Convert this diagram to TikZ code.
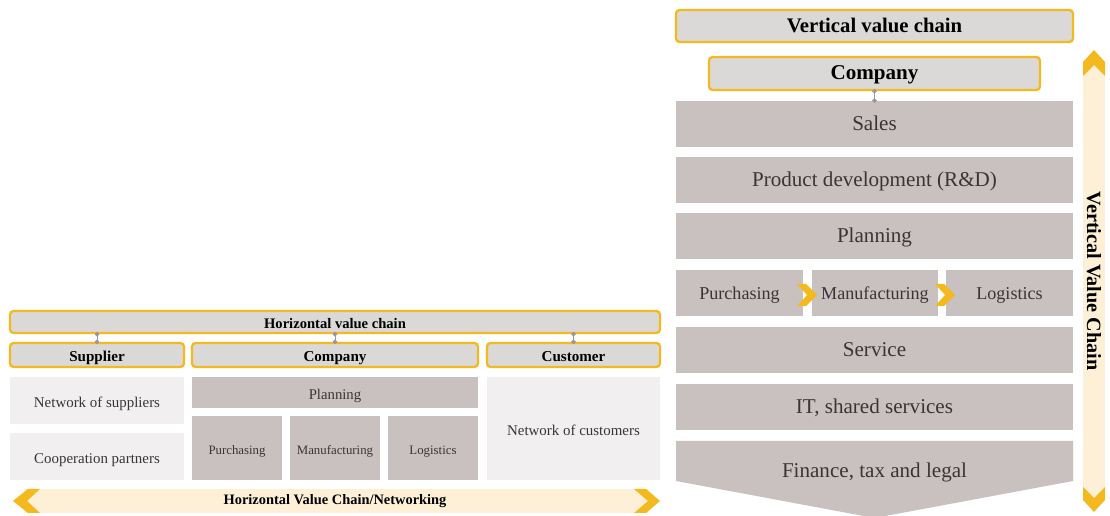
\documentclass[tikz,border=0pt]{standalone}
\usepackage{fontspec}
\setmainfont{Liberation Serif}
\usepackage{tikz}
\usetikzlibrary{arrows.meta}
\definecolor{chainyellow}{HTML}{F4B91E}
\definecolor{headgray}{HTML}{DBD8D8}
\definecolor{darkbox}{HTML}{C9C0C0}
\definecolor{lightbox}{HTML}{F1EFEF}
\definecolor{cream}{HTML}{FDF0D6}
\definecolor{boxtext}{HTML}{3A3535}
\tikzset{
    head/.style={draw=chainyellow, line width=1.3pt, fill=headgray, rounded corners=2pt,
        inner sep=0pt, text height=0.85em, text depth=0.15em, text=black},
    unit/.style={fill=darkbox, inner sep=0pt, text height=0.9em, text depth=0.15em, text=boxtext, align=center},
    net/.style={fill=lightbox, inner sep=0pt, text height=0.9em, text depth=0.15em, text=boxtext, align=center},
    conn/.style={gray!80, line width=0.5pt, {Circle[length=2.6pt]}-{Circle[length=2.6pt]}, shorten <=-1.3pt, shorten >=-1.3pt},
    chevron/.style={fill=chainyellow, draw=none}
}

\begin{document}
\begin{tikzpicture}[x=0.02cm, y=-0.02cm]
    \useasboundingbox (0,0) rectangle (1110,516);

    % horizontal value chain
    \node[head, minimum width=13cm, minimum height=0.44cm, font=\bfseries\fontsize{8.3}{9}\selectfont] (hvc) at (335,322) {Horizontal value chain};
    \node[head, minimum width=3.48cm, minimum height=0.48cm, font=\bfseries\fontsize{8.6}{10}\selectfont] (supplier) at (97,355) {Supplier};
    \node[head, minimum width=5.72cm, minimum height=0.48cm, font=\bfseries\fontsize{8.6}{10}\selectfont] (hcompany) at (335,355) {Company};
    \node[head, minimum width=3.46cm, minimum height=0.48cm, font=\bfseries\fontsize{8.6}{10}\selectfont] (customer) at (573.5,355) {Customer};

    \draw[conn] (hvc.south -| supplier.north) -- (supplier.north);
    \draw[conn] (hvc.south -| hcompany.north) -- (hcompany.north);
    \draw[conn] (hvc.south -| customer.north) -- (customer.north);

    \node[net, minimum width=3.48cm, minimum height=0.94cm, font=\fontsize{8.5}{10}\selectfont] (suppliers) at (97,400.5) {Network of suppliers};
    \node[net, minimum width=3.48cm, minimum height=0.94cm, font=\fontsize{8.5}{10}\selectfont] (partners) at (97,456.5) {Cooperation partners};
    \node[unit, minimum width=5.72cm, minimum height=0.62cm, font=\fontsize{8.4}{10}\selectfont] (hplanning) at (335,392.5) {Planning};
    \node[unit, minimum width=1.8cm, minimum height=1.28cm, font=\fontsize{7.3}{8}\selectfont] (hpurchasing) at (237,448) {Purchasing};
    \node[unit, minimum width=1.8cm, minimum height=1.28cm, font=\fontsize{7.3}{8}\selectfont] (hmanufacturing) at (335,448) {Manufacturing};
    \node[unit, minimum width=1.8cm, minimum height=1.28cm, font=\fontsize{7.3}{8}\selectfont] (hlogistics) at (433,448) {Logistics};
    \node[net, minimum width=3.46cm, minimum height=2.06cm, font=\fontsize{8.5}{10}\selectfont] (customers) at (573.5,428.5) {Network of customers};

    % horizontal band
    \fill[cream] (24,489) rectangle (648,513);
    \fill[chevron] (40,489) -- (28,489) -- (13,501) -- (28,513) -- (40,513) -- (27,501) -- cycle;
    \fill[chevron] (634,489) -- (646,489) -- (660,501) -- (646,513) -- (634,513) -- (648,501) -- cycle;
    \node[font=\bfseries\fontsize{8.2}{9}\selectfont] (hband) at (335,501) {Horizontal Value Chain/Networking};

    % vertical value chain
    \node[head, minimum width=7.94cm, minimum height=0.64cm, font=\bfseries\fontsize{11.8}{13}\selectfont] (vvc) at (874.5,26) {Vertical value chain};
    \node[head, minimum width=6.62cm, minimum height=0.66cm, font=\bfseries\fontsize{12}{13}\selectfont] (vcompany) at (874.5,73.5) {Company};
    \node[unit, minimum width=7.94cm, minimum height=0.92cm, font=\fontsize{12}{13}\selectfont] (sales) at (874.5,124) {Sales};
    \draw[conn] (vcompany.south) -- (sales.north);
    \node[unit, minimum width=7.94cm, minimum height=0.92cm, font=\fontsize{12}{13}\selectfont] (rnd) at (874.5,180) {Product development (R\&D)};
    \node[unit, minimum width=7.94cm, minimum height=0.92cm, font=\fontsize{12}{13}\selectfont] (vplanning) at (874.5,236) {Planning};
    \node[unit, minimum width=2.54cm, minimum height=0.92cm, font=\fontsize{10.3}{11}\selectfont] (vpurchasing) at (739.5,293) {Purchasing};
    \node[unit, minimum width=2.52cm, minimum height=0.92cm, font=\fontsize{10.3}{11}\selectfont] (vmanufacturing) at (875,293) {Manufacturing};
    \node[unit, minimum width=2.54cm, minimum height=0.92cm, font=\fontsize{10.3}{11}\selectfont] (vlogistics) at (1009.5,293) {Logistics};
    \fill[chevron] (797,284) -- (806,284) -- (817,295) -- (806,306) -- (797,306) -- (807,295) -- cycle;
    \fill[chevron] (935,284) -- (944,284) -- (955,295) -- (944,306) -- (935,306) -- (945,295) -- cycle;
    \node[unit, minimum width=7.94cm, minimum height=0.92cm, font=\fontsize{12}{13}\selectfont] (service) at (874.5,350) {Service};
    \node[unit, minimum width=7.94cm, minimum height=0.92cm, font=\fontsize{12}{13}\selectfont] (it) at (874.5,407) {IT, shared services};
    \fill[darkbox] (676,441) -- (1073,441) -- (1073,481) -- (874.5,518) -- (676,481) -- cycle;
    \node[text=boxtext, font=\fontsize{12}{13}\selectfont] (finance) at (874.5,472) {Finance, tax and legal};

    % vertical band
    \fill[cream] (1083,62) rectangle (1105,500);
    \fill[chevron] (1083,62) -- (1094,50) -- (1105,62) -- (1105,76) -- (1094,65) -- (1083,76) -- cycle;
    \fill[chevron] (1083,487) -- (1094,498) -- (1105,487) -- (1105,500) -- (1094,512) -- (1083,500) -- cycle;
    \node[rotate=-90, font=\bfseries\fontsize{11.5}{13}\selectfont] (vband) at (1094,281) {Vertical Value Chain};
\end{tikzpicture}
\end{document}
